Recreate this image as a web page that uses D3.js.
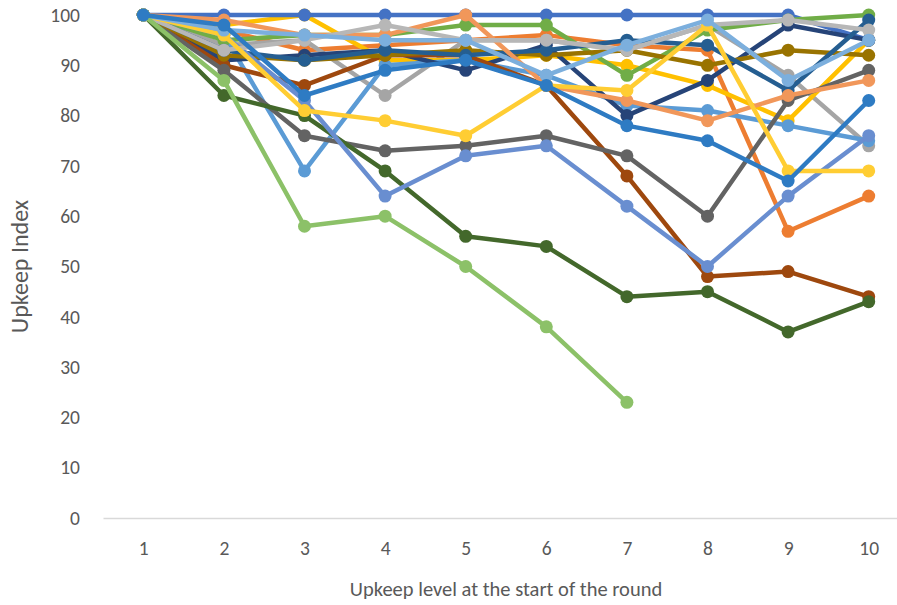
<!DOCTYPE html>
<html lang="en">
<head>
    <meta charset="UTF-8">
    <title>Upkeep Index</title>
    <script src="https://d3js.org/d3.v7.min.js"></script>
    <style>
      body { margin: 0; background: #fff; }
      .chart text { font-family: Calibri, Lato, "Liberation Sans", sans-serif; fill: #595959; }
    </style>
</head>
<body>
<div class="chart"></div>
<script>
  // categories and series values
  const levels = [1, 2, 3, 4, 5, 6, 7, 8, 9, 10]
  const yTicks = [0, 10, 20, 30, 40, 50, 60, 70, 80, 90, 100]

  const s01 = [100, 100, 100, 100, 100, 100, 100, 100, 100, 95]
  const s02 = [100, 97, 93, 94, 95, 96, 94, 93, 57, 64]
  const s03 = [100, 94, 95, 84, 95, 95, 93, 98, 88, 74]
  const s04 = [100, 98, 100, 91, 91, 92, 90, 86, 79, 95]
  const s05 = [100, 96, 69, 90, 91, 88, 82, 81, 78, 75]
  const s06 = [100, 95, 96, 96, 98, 98, 88, 97, 99, 100]
  const s07 = [100, 91, 92, 93, 89, 94, 80, 87, 98, 95]
  const s08 = [100, 90, 86, 92, 92, 86, 68, 48, 49, 44]
  const s09 = [100, 89, 76, 73, 74, 76, 72, 60, 83, 89]
  const s10 = [100, 92, 91, 92, 93, 92, 93, 90, 93, 92]
  const s11 = [100, 93, 91, 93, 92, 93, 95, 94, 85, 99]
  const s12 = [100, 84, 80, 69, 56, 54, 44, 45, 37, 43]
  const s13 = [100, 96, 83, 64, 72, 74, 62, 50, 64, 76]
  const s14 = [100, 99, 96, 96, 100, 86, 83, 79, 84, 87]
  const s15 = [100, 93, 95, 98, 95, 95, 93, 98, 99, 97]
  const s16 = [100, 96, 81, 79, 76, 86, 85, 98, 69, 69]
  const s17 = [100, 97, 96, 95, 95, 88, 94, 99, 87, 95]
  const s18 = [100, 87, 58, 60, 50, 38, 23, null, null, null]
  const s19 = [100, 98, 84, 89, 91, 86, 78, 75, 67, 83]

  // draw order (the flat blue one sits over the gold one at level 3)
  const seriesList = [s02, s03, s04, s01, s05, s06, s07, s08, s09, s10,
                      s11, s12, s13, s14, s15, s16, s17, s18, s19]
  const colors = ["#ED7D31", "#A5A5A5", "#FFC000", "#4472C4", "#5B9BD5", "#70AD47",
                  "#264478", "#9E480E", "#636363", "#997300", "#255E91", "#43682B",
                  "#698ED0", "#F1975A", "#B7B7B7", "#FFCD33", "#7CAFDD", "#8CC168",
                  "#2E7BC3"]

  const svgWidth = 897, svgHeight = 605
  const margin = {top: 15, right: -12, bottom: 87, left: 103}
  const width = svgWidth - margin.left - margin.right
  const height = svgHeight - margin.top - margin.bottom

  const svg = d3.select(".chart")
    .append("svg")
    .attr("width", svgWidth)
    .attr("height", svgHeight)
    .append("g")
    .attr("transform", `translate(${margin.left},${margin.top})`)

  // category axis, one band per level
  const x = d3.scalePoint()
    .domain(levels)
    .range([0, width])
    .padding(0.5)

  const y = d3.scaleLinear()
    .domain([0, 100])
    .range([height, 0])

  const xAxis = svg.append("g")
    .attr("transform", `translate(0, ${height})`)
    .call(d3.axisBottom(x).tickSize(0).tickPadding(23))
  xAxis.select(".domain").attr("stroke", "#D9D9D9").attr("stroke-width", 1.3)
  xAxis.selectAll("text").style("font-size", "19.5px")

  const yAxis = svg.append("g")
    .call(d3.axisLeft(y).tickValues(yTicks).tickSize(0).tickPadding(23))
  yAxis.select(".domain").remove()
  yAxis.selectAll("text").style("font-size", "19.5px")

  const line = d3.line()
    .defined(d => d != null)
    .x((d, i) => x(levels[i]))
    .y(d => y(d))

  // each series: line then its markers, in order
  seriesList.forEach((vals, k) => {
    const g = svg.append("g")
    g.append("path")
      .datum(vals)
      .attr("fill", "none")
      .attr("stroke", colors[k])
      .attr("stroke-width", 4.5)
      .attr("stroke-linejoin", "round")
      .attr("stroke-linecap", "round")
      .attr("d", line)
    g.selectAll("circle")
      .data(vals.map((v, i) => ({v, i})).filter(d => d.v != null))
      .join("circle")
        .attr("cx", d => x(levels[d.i]))
        .attr("cy", d => y(d.v))
        .attr("r", 6.5)
        .attr("fill", colors[k])
  })

  // axis titles
  svg.append("text")
    .attr("x", width / 2)
    .attr("y", height + 78)
    .attr("text-anchor", "middle")
    .style("font-size", "20.5px")
    .text("Upkeep level at the start of the round")

  svg.append("text")
    .attr("transform", `translate(${-75}, ${height / 2}) rotate(-90)`)
    .attr("text-anchor", "middle")
    .style("font-size", "24px")
    .text("Upkeep Index")
</script>
</body>
</html>
